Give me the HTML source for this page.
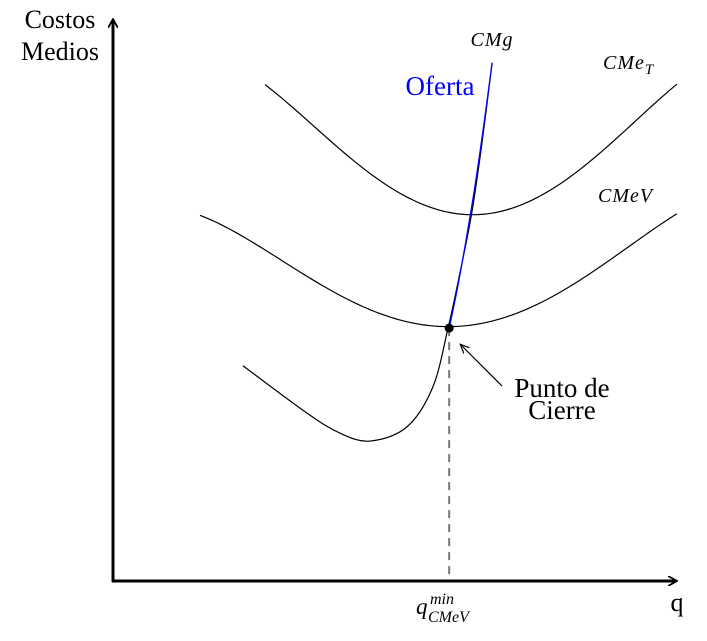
<!DOCTYPE html>
<html><head><meta charset="utf-8"><style>
html,body{margin:0;padding:0;background:#fff;}
svg{display:block;}
text{font-family:"Liberation Serif",serif;}
.it{font-style:italic;}
</style></head><body>
<svg id="chart" width="707" height="641" viewBox="0 0 707 641" xmlns="http://www.w3.org/2000/svg">
<defs>
<marker id="ah" markerWidth="10" markerHeight="10" refX="8" refY="5" orient="auto" markerUnits="userSpaceOnUse"><path d="M0,0 L9,5 L0,10" fill="none" stroke="#000" stroke-width="1.8"/></marker>
<marker id="ah2" markerWidth="10" markerHeight="10" refX="8" refY="5" orient="auto" markerUnits="userSpaceOnUse"><path d="M0,1 L9,5 L0,9" fill="none" stroke="#000" stroke-width="1.2"/></marker>
</defs>
<line x1="113" y1="582" x2="113" y2="20" stroke="#000" stroke-width="3" marker-end="url(#ah)"/>
<line x1="112" y1="581" x2="676" y2="581" stroke="#000" stroke-width="3" marker-end="url(#ah)"/>
<g id="curves"></g>
<text x="60" y="28" font-size="26" text-anchor="middle">Costos</text>
<text x="60" y="60" font-size="26" text-anchor="middle">Medios</text>
<text x="677" y="611" font-size="26" text-anchor="middle">q</text>
<text class="it" x="492" y="46" font-size="20" text-anchor="middle" letter-spacing="1">CMg</text>
<text class="it" x="603" y="69" font-size="20" letter-spacing="1">CMe<tspan font-size="15" dy="5">T</tspan></text>
<text class="it" x="598" y="202" font-size="20" letter-spacing="1">CMeV</text>
<text x="440" y="95" font-size="27" fill="#0000ff" text-anchor="middle">Oferta</text>
<text x="562" y="397" font-size="27" text-anchor="middle">Punto de</text>
<text x="562" y="419" font-size="27" text-anchor="middle">Cierre</text>
<line x1="502" y1="386" x2="461" y2="345" stroke="#000" stroke-width="1.2" marker-end="url(#ah2)"/>
<text class="it" x="416" y="614" font-size="23">q</text>
<text class="it" x="430" y="604" font-size="16">min</text>
<text class="it" x="428" y="622" font-size="16">CMeV</text>
</svg>
<script>
const cmetQ=[26.9,34.9,43.7,52.6,57.0,61.9,67.3,75.6,84.4,91.5,99.8];
const cmetC=[88.3,81.6,73.7,68.3,66.2,65.1,65.3,68.9,74.4,81.0,88.4];
const cmevQ=[15.4,26.0,34.9,43.7,52.6,59.3,67.3,75.6,84.4,91.5,99.8];
const cmevC=[65.3,58.7,54.3,49.5,46.1,45.0,45.6,50.0,54.8,59.6,65.3];
const cmgQ=[23.0,34.3,40.2,45.5,52.0,56.6,59.3,61.4,63.5,65.3,67.1];
const cmgC=[38.3,29.9,26.3,24.9,27.4,34.5,45.0,54.8,65.5,77.9,92.2];
const supplyQ=[59.5,60.9,62.5,64.1,65.5,67.1];
const supplyC=[45.0,51.8,60.7,70.5,80.2,92.2];
const shutdownQ=59.5, shutdownC=45.0;
function x(q){return 113+q*5.65;}
function y(c){return 581-c*5.62;}
function pathOf(Q,C){
  const p=Q.map((q,i)=>[x(q),y(C[i])]);
  let d="M"+p[0][0]+","+p[0][1];
  for(let i=0;i<p.length-1;i++){
    const p0=p[Math.max(0,i-1)],p1=p[i],p2=p[i+1],p3=p[Math.min(p.length-1,i+2)];
    const c1=[p1[0]+(p2[0]-p0[0])/6,p1[1]+(p2[1]-p0[1])/6];
    const c2=[p2[0]-(p3[0]-p1[0])/6,p2[1]-(p3[1]-p1[1])/6];
    d+=" C"+c1[0]+","+c1[1]+" "+c2[0]+","+c2[1]+" "+p2[0]+","+p2[1];
  }
  return d;
}
function polyFit(Q,C,deg){
  const n=deg+1, A=[], b=[];
  for(let i=0;i<n;i++){A.push(new Array(n).fill(0));b.push(0);}
  Q.forEach((q,k)=>{
    const t=(q-50)/50;
    const pw=[];for(let i=0;i<2*n;i++)pw.push(Math.pow(t,i));
    for(let i=0;i<n;i++){for(let j=0;j<n;j++)A[i][j]+=pw[i+j];b[i]+=pw[i]*C[k];}
  });
  for(let i=0;i<n;i++){
    let m=i;for(let r=i+1;r<n;r++)if(Math.abs(A[r][i])>Math.abs(A[m][i]))m=r;
    [A[i],A[m]]=[A[m],A[i]];[b[i],b[m]]=[b[m],b[i]];
    for(let r=i+1;r<n;r++){const f=A[r][i]/A[i][i];for(let j=i;j<n;j++)A[r][j]-=f*A[i][j];b[r]-=f*b[i];}
  }
  const co=new Array(n).fill(0);
  for(let i=n-1;i>=0;i--){let s=b[i];for(let j=i+1;j<n;j++)s-=A[i][j]*co[j];co[i]=s/A[i][i];}
  return q=>{const t=(q-50)/50;let v=0;for(let i=n-1;i>=0;i--)v=v*t+co[i];return v;};
}
function fitPath(Q,C){
  const f=polyFit(Q,C,4);
  const q0=Q[0],q1=Q[Q.length-1];
  let d="";
  for(let i=0;i<=120;i++){const q=q0+(q1-q0)*i/120;d+=(i?" L":"M")+x(q).toFixed(2)+","+y(f(q)).toFixed(2);}
  return d;
}
const g=document.getElementById('curves');
const NS="http://www.w3.org/2000/svg";
function add(tag,attrs){
  const e=document.createElementNS(NS,tag);
  for(const k in attrs)e.setAttribute(k,attrs[k]);
  g.appendChild(e);return e;
}
let e;
e=add('line',{x1:x(shutdownQ),y1:y(shutdownC),x2:x(shutdownQ),y2:579,stroke:'#777','stroke-width':2,'stroke-dasharray':'8,6'});


e=add('path',{d:fitPath(cmetQ,cmetC),fill:'none',stroke:'#000','stroke-width':1.2});


e=add('path',{d:fitPath(cmevQ,cmevC),fill:'none',stroke:'#000','stroke-width':1.2});


e=add('path',{d:pathOf(cmgQ,cmgC),fill:'none',stroke:'#000','stroke-width':1.2});


e=add('path',{d:pathOf(supplyQ,supplyC),fill:'none',stroke:'#0000ff','stroke-width':1.3});


e=add('circle',{cx:x(shutdownQ),cy:y(shutdownC),r:4.5,fill:'#000'});


</script>
</body></html>
